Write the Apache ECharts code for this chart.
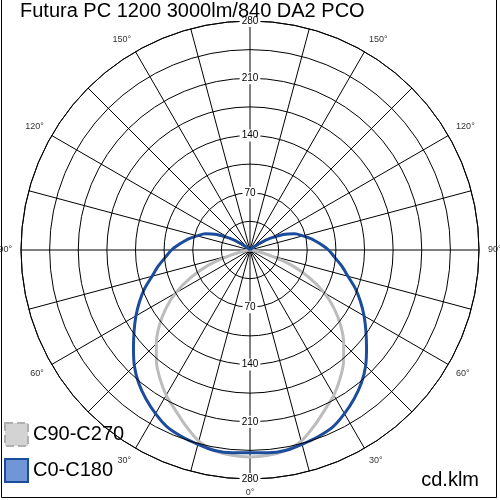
<!DOCTYPE html>
<html><head><meta charset="utf-8">
<script src="https://cdn.jsdelivr.net/npm/echarts@6/dist/echarts.min.js"></script>
<style>html,body{margin:0;padding:0;background:#fff}#c{width:500px;height:500px}</style>
</head><body><div id="c"></div>
<script>
const titleText = 'Futura PC 1200 3000lm/840 DA2 PCO';
const unitText = 'cd.klm';
const seriesNames = ['C90-C270', 'C0-C180'];
// gamma angles (0 = straight down), degrees
const gammaC0 = [0,5,10,15,20,25,30,35,40,45,50,55,60,65,70,75,80,85,90,95,100,105,110,115,120,125,130,135];
const valuesC0C180 = [248,249,249,246,243,239,231,222,212,200,186,173,161,149,137,124,114,104,96,86,77,67,58,45,29,15,5,0];
const gammaC90 = [0,5,10,15,20,25,30,35,40,45,50,55,60,65,70,75,80,85,90];
const valuesC90C270 = [253,252,249,242,229,216,205,192,178,162,145,126,105,80,54,25,7,0,0];
const radiusLabelValues = [70,140,210,280];
const angleLabelValues = [0,30,60,90,120,150];

function mirror(vals, angles) {
  const pts = [];
  for (let i = vals.length - 1; i > 0; i--) pts.push([vals[i], 360 - angles[i]]);
  for (let i = 0; i < vals.length; i++) pts.push([vals[i], angles[i]]);
  return pts;
}

const FONT = 'Liberation Sans';
const radiusLabel = {
  show: true, margin: 0, align: 'center', verticalAlign: 'middle',
  formatter: v => radiusLabelValues.includes(v) ? '{b|' + v + '}' : '',
  rich: { b: { backgroundColor: '#fff', padding: [1, 2], fontSize: 10, color: '#000', fontFamily: FONT } }
};

const chart = echarts.init(document.getElementById('c'), null, { renderer: 'canvas' });
chart.setOption({
  animation: false,
  backgroundColor: '#fff',
  title: {
    text: titleText, left: 20, top: 1, padding: 0,
    textStyle: { fontFamily: FONT, fontSize: 20, fontWeight: 'normal', color: '#000' }
  },
  legend: {
    orient: 'vertical', left: 4, top: 422, padding: 0, itemWidth: 23, itemHeight: 23, itemGap: 11, icon: 'rect',
    textStyle: { fontFamily: FONT, fontSize: 20, color: '#000' },
    data: [
      { name: seriesNames[0], itemStyle: { color: '#d3d3d3', borderColor: '#b0b0b0', borderWidth: 2, borderType: 'dashed' } },
      { name: seriesNames[1], itemStyle: { color: '#7096d8', borderColor: '#1c4c9c', borderWidth: 2 } }
    ]
  },
  polar: [
    { center: [250, 250], radius: 229 },
    { center: [250, 250], radius: 229 }
  ],
  angleAxis: [
    {
      polarIndex: 0, type: 'value', min: 0, max: 360, interval: 15, startAngle: 270, clockwise: true, z: 1,
      axisLine: { lineStyle: { color: '#000', width: 1 } },
      axisTick: { show: false },
      splitLine: { lineStyle: { color: '#000', width: 1 } },
      axisLabel: {
        margin: 9, fontSize: 9, color: '#333', fontFamily: FONT,
        formatter: v => {
          const d = v <= 180 ? v : 360 - v;
          return (v !== 360 && angleLabelValues.includes(d)) ? d + '°' : '';
        }
      }
    },
    { polarIndex: 1, type: 'value', min: 0, max: 360, interval: 15, startAngle: 90, show: false }
  ],
  radiusAxis: [
    {
      polarIndex: 0, type: 'value', min: 0, max: 280, interval: 35, z: 5,
      axisLine: { show: false }, axisTick: { show: false },
      splitLine: { lineStyle: { color: '#000', width: 1 } },
      axisLabel: radiusLabel
    },
    {
      polarIndex: 1, type: 'value', min: 0, max: 280, interval: 35, z: 5,
      axisLine: { show: false }, axisTick: { show: false }, splitLine: { show: false },
      axisLabel: radiusLabel
    }
  ],
  series: [
    {
      name: seriesNames[0], type: 'line', coordinateSystem: 'polar', polarIndex: 0,
      symbol: 'none', smooth: 0.3, z: 3,
      lineStyle: { color: '#bcbcbc', width: 3 }, itemStyle: { color: '#bcbcbc' },
      data: mirror(valuesC90C270, gammaC90)
    },
    {
      name: seriesNames[1], type: 'line', coordinateSystem: 'polar', polarIndex: 0,
      symbol: 'none', smooth: 0.3, z: 4,
      lineStyle: { color: '#1c4c9c', width: 3 }, itemStyle: { color: '#1c4c9c' },
      data: mirror(valuesC0C180, gammaC0)
    }
  ],
  graphic: [
    { type: 'rect', silent: true, shape: { x: 1.5, y: -2, width: 495, height: 499.5 }, style: { fill: null, stroke: '#000', lineWidth: 1 } },
    { type: 'text', right: 21, top: 470, style: { text: unitText, font: '20px "Liberation Sans"', fill: '#000' } }
  ]
});
</script></body></html>
